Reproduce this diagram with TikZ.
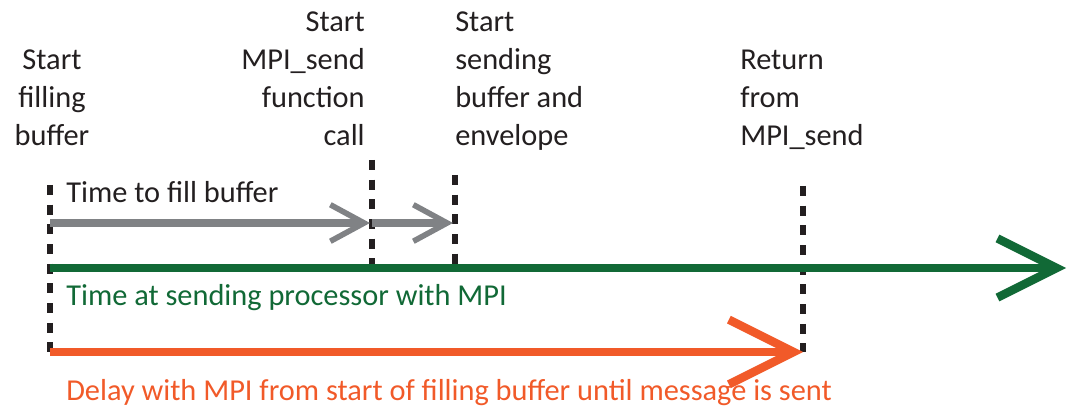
\documentclass[tikz,border=0pt]{standalone}
\usepackage{fontspec}
\setmainfont{Carlito}
\usetikzlibrary{arrows.meta,positioning}
\definecolor{fillGray}{HTML}{808285}
\definecolor{mpiGreen}{HTML}{116936}
\definecolor{delayOrange}{HTML}{F15A29}
\definecolor{markBlack}{HTML}{231F20}
\tikzset{
    label/.style={
        inner sep=0pt,
        font=\fontsize{21.6}{27}\selectfont,
        text=markBlack
    },
    marker/.style={
        draw=markBlack,
        line width=4pt,
        dash pattern=on 7pt off 7pt
    },
    fillarrow/.style={
        draw=fillGray,
        line width=5pt,
        -{Straight Barb[length=24pt,width=26pt,line width=4pt]}
    },
    timeline/.style={
        draw=mpiGreen,
        line width=6pt,
        -{Straight Barb[length=42pt,width=42pt,line width=6pt]}
    },
    delayline/.style={
        draw=delayOrange,
        line width=6pt,
        -{Straight Barb[length=46pt,width=46pt,line width=6pt]}
    }
}

\begin{document}
\begin{tikzpicture}[x=0.025cm,y=-0.025cm]
    \useasboundingbox (0,0) rectangle (1068,412);

    % event positions on the time axis
    \coordinate (t0) at (50,223);
    \coordinate (t1) at (372,223);
    \coordinate (t2) at (455,223);
    \coordinate (t3) at (803,352);

    % event labels
    \node[label, align=center, anchor=north] (fill) at (52,50)
        {Start\\filling\\buffer};
    \node[label, align=right, anchor=north east] (call) at (365,12)
        {Start\\MPI\_send\\function\\call};
    \node[label, align=left, anchor=north west] (send) at (455,12)
        {Start\\sending\\buffer and\\envelope};
    \node[label, align=left, anchor=north west] (ret) at (740,50)
        {Return\\from\\MPI\_send};

    % dotted markers
    \draw[marker] (50,185) -- (50,352);
    \draw[marker] (372,160) -- (372,264);
    \draw[marker] (455,175) -- (455,264);
    \draw[marker] (803,186) -- (803,352);

    % arrows
    \draw[fillarrow] (t0) -- (370,223);
    \draw[fillarrow] (t1) -- (453,223);
    \coordinate (g0) at (50,268);
    \coordinate (gend) at (1066,268);
    \draw[timeline] (g0) -- (gend);
    \coordinate (o0) at (50,352);
    \draw[delayline] (o0) -- (t3);

    % arrow labels
    \node[label, anchor=base west] (filltime) at (66,203) {Time to fill buffer};
    \node[label, anchor=base west, text=mpiGreen] (mpitime) at (66,306)
        {Time at sending processor with MPI};
    \node[label, anchor=base west, text=delayOrange] (delay) at (66,401)
        {Delay with MPI from start of filling buffer until message is sent};
\end{tikzpicture}
\end{document}
